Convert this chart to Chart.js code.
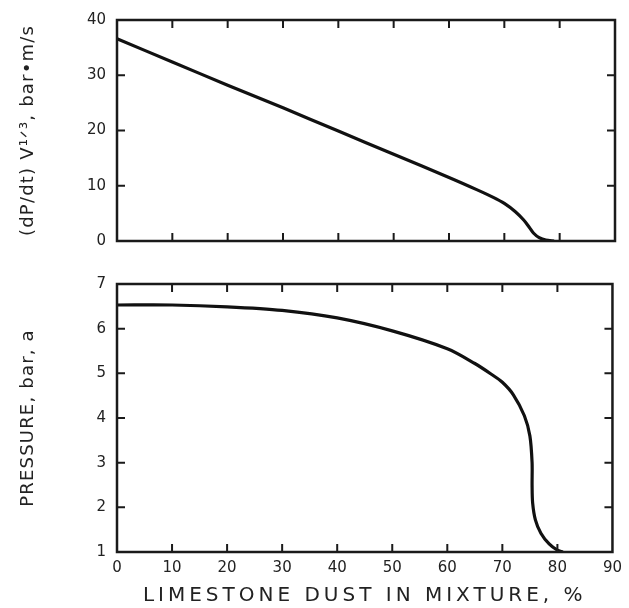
<!DOCTYPE html>
<html>
<head>
<meta charset="utf-8">
<script src="https://cdn.jsdelivr.net/npm/chart.js@4/dist/chart.umd.min.js"></script>
<style>
  body { margin: 0; background: #fff; }
  canvas { position: absolute; left: 0; }
</style>
</head>
<body>
<canvas id="rate" width="629" height="262" style="top:0"></canvas>
<canvas id="pressure" width="629" height="346" style="top:262px"></canvas>
<script>
// top panel: rate of pressure rise vs limestone content
var rateX = [0, 10, 20, 30, 40, 50, 60, 65, 68, 70, 72, 73.5, 74.5, 75.3, 76.3, 77.5, 79];
var rateY = [36.6, 32.4, 28.2, 24.1, 19.9, 15.7, 11.5, 9.3, 7.9, 6.8, 5.3, 3.8, 2.5, 1.4, 0.6, 0.15, 0];
// bottom panel: max pressure vs limestone content
var presX = [0, 10, 20, 30, 40, 50, 60, 65, 68, 70, 72, 74, 75, 75.4, 75.4, 75.5, 76, 77, 78.5, 80, 81];
var presY = [6.53, 6.53, 6.49, 6.41, 6.24, 5.95, 5.55, 5.22, 4.98, 4.8, 4.52, 4.05, 3.6, 3.0, 2.5, 2.1, 1.72, 1.42, 1.18, 1.04, 1];

Chart.defaults.font.family = "'DejaVu Sans', sans-serif";
Chart.defaults.color = "#222";

function points(xs, ys) {
  return xs.map(function (x, i) { return {x: x, y: ys[i]}; });
}

// box round the plot with inward ticks on all four sides
var frame = {
  id: "frame",
  afterDatasetsDraw: function (chart) {
    var ctx = chart.ctx, a = chart.chartArea, x = chart.scales.x, y = chart.scales.y;
    ctx.save();
    ctx.strokeStyle = "#1a1a1a";
    ctx.lineWidth = 2.5;
    ctx.strokeRect(a.left, a.top, a.right - a.left, a.bottom - a.top);
    ctx.lineWidth = 2;
    ctx.beginPath();
    x.ticks.forEach(function (t) {
      var px = x.getPixelForValue(t.value);
      if (px <= a.left + 1 || px >= a.right - 1) return;
      ctx.moveTo(px, a.bottom); ctx.lineTo(px, a.bottom - 8);
      ctx.moveTo(px, a.top); ctx.lineTo(px, a.top + 8);
    });
    y.ticks.forEach(function (t) {
      var py = y.getPixelForValue(t.value);
      if (py <= a.top + 1 || py >= a.bottom - 1) return;
      ctx.moveTo(a.left, py); ctx.lineTo(a.left + 8, py);
      ctx.moveTo(a.right, py); ctx.lineTo(a.right - 8, py);
    });
    ctx.stroke();
    ctx.restore();
  }
};

// wide letter spacing on the axis titles
var spacing = {
  id: "spacing",
  beforeDraw: function (chart, args, opts) {
    Object.keys(chart.scales).forEach(function (id) {
      var s = chart.scales[id];
      if (s.spaced) return;
      var draw = s.drawTitle, gap = opts[id] || "0px";
      s.drawTitle = function () {
        this.ctx.save();
        this.ctx.letterSpacing = gap;
        draw.call(this);
        this.ctx.restore();
      };
      s.spaced = true;
    });
  }
};

function options(cfg) {
  return {
    responsive: false,
    animation: false,
    layout: {padding: {top: cfg.top, right: 14, left: 0, bottom: 0}},
    plugins: {legend: {display: false}, tooltip: {enabled: false}, spacing: {x: "4px", y: "1.2px"}},
    scales: {
      x: {
        type: "linear", min: 0, max: 90,
        grid: {display: false, drawTicks: false}, border: {display: false},
        ticks: {display: cfg.xLabels, stepSize: 10, padding: 7, font: {size: 15}},
        title: {display: cfg.xLabels, text: "LIMESTONE DUST IN MIXTURE, %", font: {size: 20}, padding: {top: 4, bottom: 0}},
        afterFit: function (s) { s.height = cfg.xHeight; }
      },
      y: {
        type: "linear", min: cfg.yMin, max: cfg.yMax,
        grid: {display: false, drawTicks: false}, border: {display: false},
        ticks: {stepSize: cfg.yStep, padding: 11, font: {size: 15}},
        title: {display: true, text: cfg.yTitle, font: {size: 18}, padding: {top: 18, bottom: 0}},
        afterFit: function (s) { s.width = 117; }
      }
    }
  };
}

function line(xs, ys) {
  return {
    data: points(xs, ys),
    showLine: true,
    borderColor: "#111",
    borderWidth: 3.2,
    pointRadius: 0,
    tension: 0.3
  };
}

new Chart("rate", {
  type: "scatter",
  data: {datasets: [line(rateX, rateY)]},
  options: options({top: 18, xHeight: 21, xLabels: false, yMin: 0, yMax: 40, yStep: 10,
    yTitle: "(dP/dt) V\u00b9\u141f\u00b3, bar\u2022m/s"}),
  plugins: [frame, spacing]
});

new Chart("pressure", {
  type: "scatter",
  data: {datasets: [line(presX, presY)]},
  options: options({top: 22, xHeight: 56, xLabels: true, yMin: 1, yMax: 7, yStep: 1,
    yTitle: "PRESSURE, bar, a"}),
  plugins: [frame, spacing]
});
</script>
</body>
</html>
